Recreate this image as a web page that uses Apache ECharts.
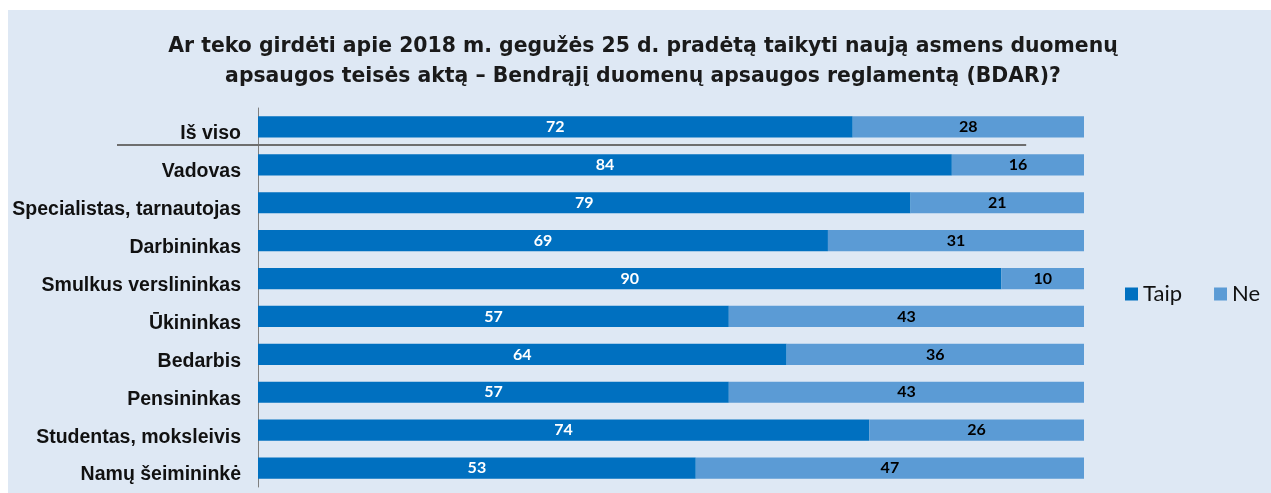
<!DOCTYPE html>
<html>
<head>
<meta charset="utf-8">
<script src="https://cdn.jsdelivr.net/npm/echarts@6/dist/echarts.min.js"></script>
<style>
html,body{margin:0;padding:0;background:#ffffff;}
#chart{width:1271px;height:493px;}
</style>
</head>
<body>
<div id="chart"></div>
<script>
const titleText = 'Ar teko girdėti apie 2018 m. gegužės 25 d. pradėtą taikyti naują asmens duomenų\napsaugos teisės aktą – Bendrąjį duomenų apsaugos reglamentą (BDAR)?';
const categories = ['Iš viso','Vadovas','Specialistas, tarnautojas','Darbininkas','Smulkus verslininkas','Ūkininkas','Bedarbis','Pensininkas','Studentas, moksleivis','Namų šeimininkė'];
const taip = [72,84,79,69,90,57,64,57,74,53];
const ne = [28,16,21,31,10,43,36,43,26,47];

const chart = echarts.init(document.getElementById('chart'), null, {renderer:'canvas'});
const panel = {type:'rect', z:-10, silent:true, shape:{x:8,y:10,width:1263,height:483}, style:{fill:'#dee8f4'}};
const option = {
  backgroundColor:'#ffffff',
  animation:false,
  title:{
    text:titleText,
    left:638, top:27, textAlign:'center',
    textStyle:{fontFamily:'DejaVu Sans', fontWeight:'bold', fontSize:20.4, lineHeight:30, color:'#1a1a1a'}
  },
  legend:{
    data:['Taip','Ne'],
    left:1120, top:278,
    itemWidth:13, itemHeight:13, itemGap:32,
    icon:'rect',
    textStyle:{fontFamily:'Lato', fontSize:22, color:'#111'}
  },
  grid:{left:258, right:187, top:108, bottom:6, containLabel:false},
  xAxis:{type:'value', min:0, max:100, show:false},
  yAxis:{
    type:'category', data:categories, inverse:true,
    axisTick:{show:false},
    axisLine:{show:true, lineStyle:{color:'#7f7f7f', width:1}},
    axisLabel:{
      margin:17,
      formatter:function(v){return '{a|' + v + '}';},
      rich:{a:{fontFamily:'Liberation Sans', fontWeight:'bold', fontSize:19.5, color:'#111', padding:[14,0,0,0]}}
    }
  },
  series:[
    {name:'Taip', type:'bar', stack:'a', data:taip, barCategoryGap:'44%',
     itemStyle:{color:'#0070c0'},
     label:{show:true, position:'inside', color:'#ffffff', fontFamily:'Lato', fontWeight:'bold', fontSize:16}},
    {name:'Ne', type:'bar', stack:'a', data:ne, barCategoryGap:'44%',
     itemStyle:{color:'#5b9bd5'},
     label:{show:true, position:'inside', color:'#000000', fontFamily:'Lato', fontWeight:'bold', fontSize:16}}
  ],
  graphic:[panel]
};
chart.setOption(option);
// separator line under first category, positioned from the axis scale
const yTop = chart.convertToPixel({yAxisIndex:0}, categories[0]);
const yNext = chart.convertToPixel({yAxisIndex:0}, categories[1]);
const ySep = (yTop + yNext)/2 - 1;
const x0 = chart.convertToPixel({xAxisIndex:0}, 0);
const x93 = chart.convertToPixel({xAxisIndex:0}, 93);
chart.setOption({graphic:[
  panel,
  {type:'line', z:10, silent:true, shape:{x1:x0-141, y1:ySep, x2:x93, y2:ySep}, style:{stroke:'#6e6e6e', lineWidth:2}}
]});
</script>
</body>
</html>
